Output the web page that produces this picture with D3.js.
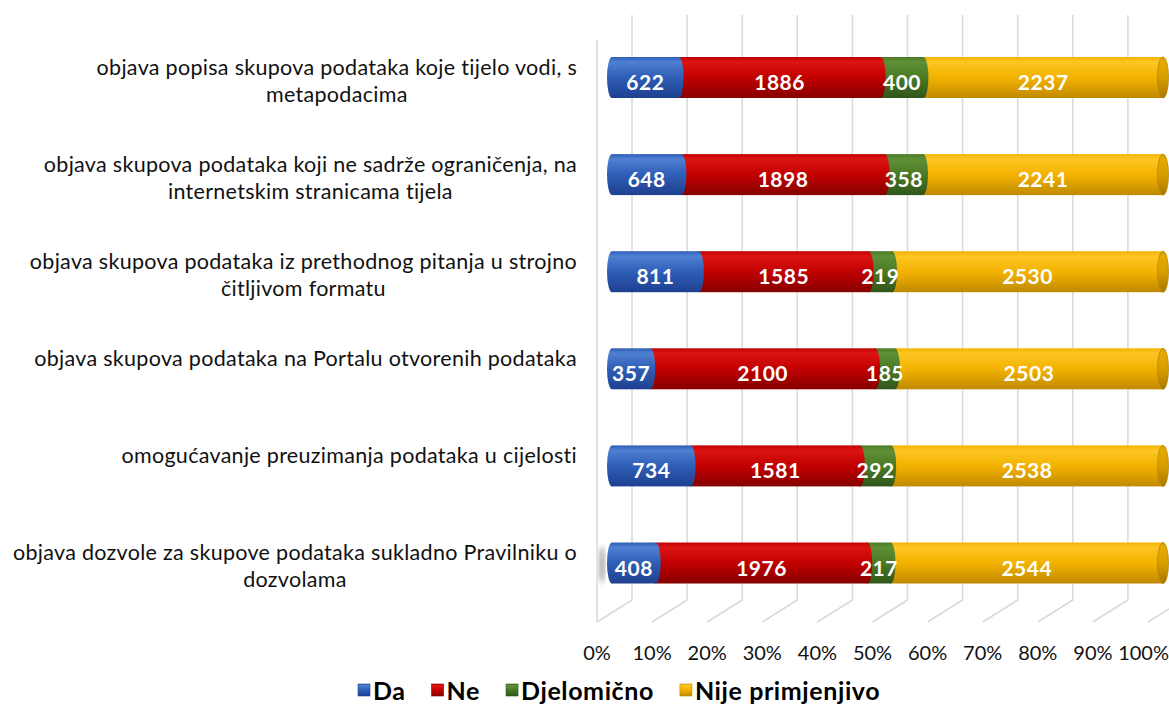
<!DOCTYPE html>
<html>
<head>
<meta charset="utf-8">
<script src="https://cdnjs.cloudflare.com/ajax/libs/d3/7.8.5/d3.min.js"></script>
<style>
  body { margin: 0; background: #ffffff; }
  text { font-family: Lato, "Open Sans", sans-serif; }
</style>
</head>
<body>
<script>
// data
var categories = [
  ["objava popisa skupova podataka koje tijelo vodi, s", "metapodacima"],
  ["objava skupova podataka koji ne sadrže ograničenja, na", "internetskim stranicama tijela"],
  ["objava skupova podataka iz prethodnog pitanja u strojno", "čitljivom formatu"],
  ["objava skupova podataka na Portalu otvorenih podataka"],
  ["omogućavanje preuzimanja podataka u cijelosti"],
  ["objava dozvole za skupove podataka sukladno Pravilniku o", "dozvolama"]
];
var seriesNames = ["Da", "Ne", "Djelomično", "Nije primjenjivo"];
var da = [622, 648, 811, 357, 734, 408];
var ne = [1886, 1898, 1585, 2100, 1581, 1976];
var djelomicno = [400, 358, 219, 185, 292, 217];
var nijePrimjenjivo = [2237, 2241, 2530, 2503, 2538, 2544];
var tickLabels = ["0%", "10%", "20%", "30%", "40%", "50%", "60%", "70%", "80%", "90%", "100%"];

var width = 1169, height = 727;
var colors = [
  {top: "#4f80d2", mid: "#2f5eb6", bot: "#1f4090"},
  {top: "#dc1414", mid: "#c20000", bot: "#860000"},
  {top: "#5f9036", mid: "#4a7a26", bot: "#30561a"},
  {top: "#fcc624", mid: "#f4b200", bot: "#c08a00"}
];
var endCap = {top: "#e6aa00", mid: "#d89e00", bot: "#a87800"};

var svg = d3.select("body").append("svg")
  .attr("width", width)
  .attr("height", height);

var defs = svg.append("defs");
function addGradient(id, c) {
  var g = defs.append("linearGradient").attr("id", id)
    .attr("x1", 0).attr("y1", 0).attr("x2", 0).attr("y2", 1);
  g.append("stop").attr("offset", "0%").attr("stop-color", c.mid);
  g.append("stop").attr("offset", "12%").attr("stop-color", c.top);
  g.append("stop").attr("offset", "50%").attr("stop-color", c.mid);
  g.append("stop").attr("offset", "100%").attr("stop-color", c.bot);
}
colors.forEach(function(c, i) { addGradient("grad" + i, c); });
addGradient("gradEnd", endCap);
defs.append("filter").attr("id", "blur")
  .append("feGaussianBlur").attr("stdDeviation", 2.5);

// scales
var n = categories.length;
var stacked = d3.range(n).map(function(i) {
  var vals = [da[i], ne[i], djelomicno[i], nijePrimjenjivo[i]];
  var total = d3.sum(vals);
  var acc = 0;
  return vals.map(function(v, s) {
    var seg = {cat: i, s: s, v: v, x0: acc / total, x1: (acc + v) / total};
    acc += v;
    return seg;
  });
});

var xBar = d3.scaleLinear().domain([0, 1]).range([612, 1163]);
var xFront = d3.scaleLinear().domain([0, 1]).range([597, 1148]);
var depthX = 35, depthY = -22;
var floorY = 622, wallTop = 15;
var y = d3.scalePoint().domain(d3.range(n)).range([28.95, 611.55]).padding(0.5);
var barH = 41;

// walls / gridlines
var grid = svg.append("g").attr("stroke", "#d9d9d9").attr("stroke-width", 1.5).attr("fill", "none");
var ticks = d3.range(tickLabels.length).map(function(i) { return i / (tickLabels.length - 1); });
grid.selectAll("path.g").data(ticks).enter().append("path")
  .attr("d", function(t) {
    var bx = xFront(t) + depthX;
    return "M" + bx + "," + wallTop + "L" + bx + "," + (floorY + depthY) + "L" + xFront(t) + "," + floorY;
  });
grid.append("line")
  .attr("x1", xFront(0)).attr("x2", xFront(0))
  .attr("y1", wallTop - depthY + 3).attr("y2", floorY);

// tick labels
var tickText = svg.append("g").selectAll("text").data(ticks).enter().append("text")
  .attr("y", 652)
  .attr("text-anchor", "middle")
  .attr("dominant-baseline", "central")
  .attr("font-size", 20)
  .attr("fill", "#111")
  .text(function(t, i) { return tickLabels[i]; });
tickText.attr("x", function(t) {
  var w = this.getComputedTextLength();
  return Math.min(xFront(t), width - w / 2);
});

// shadow near lowest bar
svg.append("ellipse")
  .attr("cx", xBar(0) - 10).attr("cy", y(n - 1) + 2)
  .attr("rx", 3).attr("ry", barH / 2 - 2)
  .attr("fill", "#888").attr("opacity", 0.7)
  .attr("filter", "url(#blur)");

// bars (cylinders), drawn right to left so each end bulges into the next
var bars = svg.append("g");
stacked.forEach(function(segs, i) {
  var g = bars.append("g");
  var cy = y(i);
  segs.slice().reverse().forEach(function(d) {
    var x0 = xBar(d.x0), x1 = xBar(d.x1);
    g.append("rect")
      .attr("x", x0).attr("y", cy - barH / 2)
      .attr("width", x1 - x0).attr("height", barH)
      .attr("fill", "url(#grad" + d.s + ")");
    if (d.s === segs.length - 1) {
      g.append("ellipse")
        .attr("cx", x1).attr("cy", cy).attr("rx", 5.5).attr("ry", barH / 2)
        .attr("fill", "url(#gradEnd)")
        .attr("stroke", "#b88500").attr("stroke-width", 0.8);
    } else {
      g.append("ellipse")
        .attr("cx", x1).attr("cy", cy).attr("rx", 5).attr("ry", barH / 2)
        .attr("fill", "url(#grad" + d.s + ")");
    }
    if (d.s === 0) {
      g.append("ellipse")
        .attr("cx", x0).attr("cy", cy).attr("rx", 5).attr("ry", barH / 2)
        .attr("fill", "url(#grad0)");
    }
  });
  g.selectAll("text").data(segs).enter().append("text")
    .attr("x", function(d) { return (xBar(d.x0) + xBar(d.x1)) / 2; })
    .attr("y", cy + 4)
    .attr("text-anchor", "middle")
    .attr("dominant-baseline", "central")
    .attr("font-size", 21)
    .attr("font-weight", "bold")
    .attr("letter-spacing", 0.5)
    .attr("fill", "#ffffff")
    .text(function(d) { return d.v; });
});

// category labels, centred block with longest line ending at 577
var labelRight = 577;
categories.forEach(function(lines, i) {
  var g = svg.append("g");
  var texts = g.selectAll("text").data(lines).enter().append("text")
    .attr("y", function(l, k) { return y(i) - 11 + k * 27; })
    .attr("text-anchor", "middle")
    .attr("dominant-baseline", "central")
    .attr("font-size", 21.5)
    .attr("letter-spacing", 0.3)
    .attr("fill", "#111")
    .text(function(l) { return l; });
  var maxW = d3.max(texts.nodes(), function(t) { return t.getComputedTextLength(); });
  texts.attr("x", labelRight - maxW / 2);
});

// legend
var legend = svg.append("g");
var lx = 358, ly = 690;
seriesNames.forEach(function(name, s) {
  legend.append("rect")
    .attr("x", lx).attr("y", ly - 6).attr("width", 12).attr("height", 12)
    .attr("fill", "url(#grad" + s + ")")
    .attr("stroke", colors[s].bot).attr("stroke-width", 0.6);
  var t = legend.append("text")
    .attr("x", lx + 15).attr("y", ly)
    .attr("dominant-baseline", "central")
    .attr("font-size", 25)
    .attr("font-weight", "bold")
    .attr("letter-spacing", 0.6)
    .attr("fill", "#000")
    .text(name);
  lx += 15 + t.node().getComputedTextLength() + 26;
});
</script>
</body>
</html>
